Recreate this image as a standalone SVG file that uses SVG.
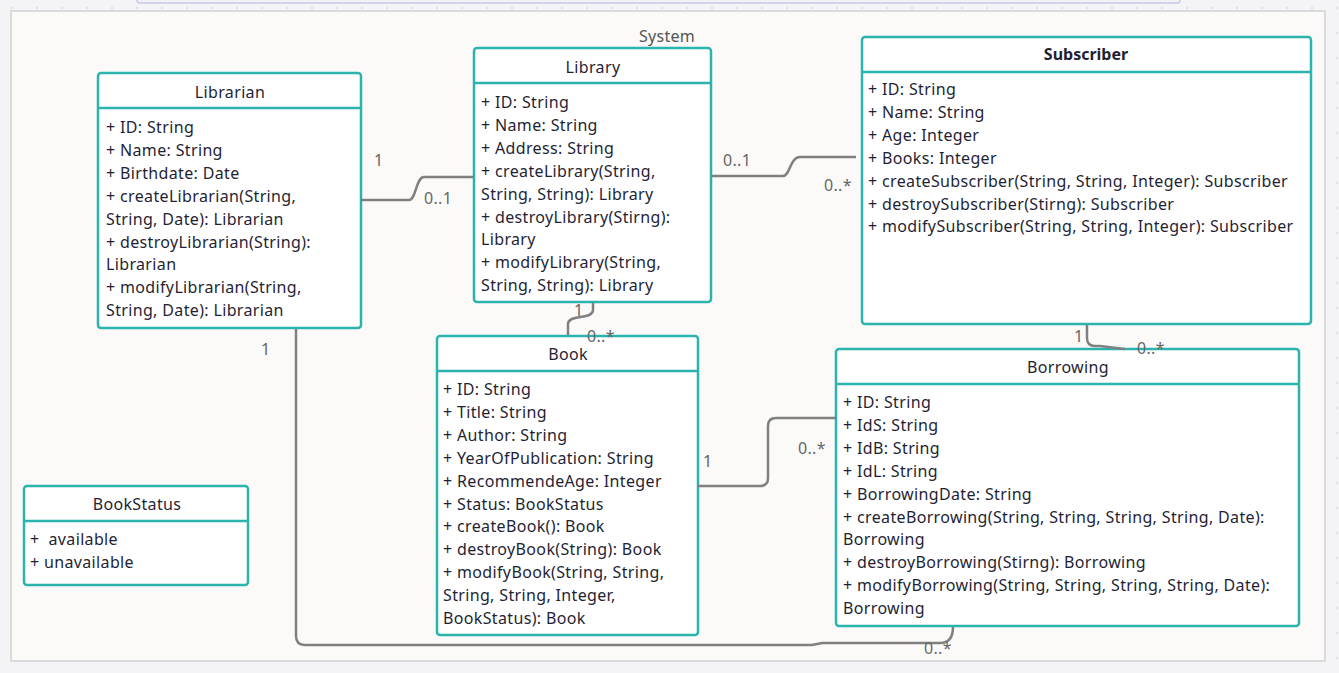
<svg xmlns="http://www.w3.org/2000/svg" width="1339" height="673" viewBox="0 0 1339 673">
<defs>
<pattern id="dots" width="25" height="25" patternUnits="userSpaceOnUse" x="11" y="0">
<circle cx="1" cy="8" r="1.2" fill="#dedee4"/>
</pattern>
<style>
.box{fill:#ffffff;stroke:#2bb3ae;stroke-width:2.5}
.div{stroke:#2bb3ae;stroke-width:2.5}
.t{font-family:"Noto Sans","Open Sans","DejaVu Sans",sans-serif;font-size:16px;fill:#1f1f35;white-space:pre;letter-spacing:0.35px}
.ttl{text-anchor:middle}
.b{font-weight:bold;letter-spacing:0}
.lbl{font-family:"Noto Sans","Open Sans","DejaVu Sans",sans-serif;font-size:16px;fill:#666666;letter-spacing:0.3px}
.con{fill:none;stroke:#808080;stroke-width:2.5}
</style>
</defs>
<rect x="0" y="0" width="1339" height="673" fill="#f4f4f6"/>
<rect x="0" y="0" width="1339" height="673" fill="url(#dots)"/>
<rect x="11" y="11" width="1314" height="650" fill="#fbfaf8" stroke="#dadada" stroke-width="2"/>
<rect x="137" y="-6" width="1043" height="9" rx="3" fill="#f1f1f8" stroke="#c6c9e9" stroke-width="1.5"/>
<text class="lbl" x="667" y="42" text-anchor="middle" style="fill:#555555">System</text>

<g id="librarian">
<rect class="box" x="98" y="73" width="263" height="255" rx="3"/>
<line class="div" x1="98" y1="108" x2="361" y2="108"/>
<text class="t ttl" x="230" y="98">Librarian</text>
<text class="t" x="106" y="133">+ ID: String</text>
<text class="t" x="106" y="156">+ Name: String</text>
<text class="t" x="106" y="178.8">+ Birthdate: Date</text>
<text class="t" x="106" y="201.7">+ createLibrarian(String,</text>
<text class="t" x="106" y="224.6">String, Date): Librarian</text>
<text class="t" x="106" y="247.5">+ destroyLibrarian(String):</text>
<text class="t" x="106" y="270.4">Librarian</text>
<text class="t" x="106" y="293.3">+ modifyLibrarian(String,</text>
<text class="t" x="106" y="316.2">String, Date): Librarian</text>
</g>

<g id="library">
<rect class="box" x="474" y="48" width="237" height="254" rx="3"/>
<line class="div" x1="474" y1="83" x2="711" y2="83"/>
<text class="t ttl" x="593" y="73">Library</text>
<text class="t" x="481" y="108">+ ID: String</text>
<text class="t" x="481" y="130.9">+ Name: String</text>
<text class="t" x="481" y="153.8">+ Address: String</text>
<text class="t" x="481" y="176.7">+ createLibrary(String,</text>
<text class="t" x="481" y="199.6">String, String): Library</text>
<text class="t" x="481" y="222.5">+ destroyLibrary(Stirng):</text>
<text class="t" x="481" y="245.4">Library</text>
<text class="t" x="481" y="268.3">+ modifyLibrary(String,</text>
<text class="t" x="481" y="291.2">String, String): Library</text>
</g>

<g id="subscriber">
<rect class="box" x="862" y="37" width="449" height="287" rx="3"/>
<line class="div" x1="862" y1="72" x2="1311" y2="72"/>
<text class="t ttl b" x="1086" y="60">Subscriber</text>
<text class="t" x="868" y="95">+ ID: String</text>
<text class="t" x="868" y="117.9">+ Name: String</text>
<text class="t" x="868" y="140.8">+ Age: Integer</text>
<text class="t" x="868" y="163.7">+ Books: Integer</text>
<text class="t" x="868" y="186.6">+ createSubscriber(String, String, Integer): Subscriber</text>
<text class="t" x="868" y="209.5">+ destroySubscriber(Stirng): Subscriber</text>
<text class="t" x="868" y="232.4">+ modifySubscriber(String, String, Integer): Subscriber</text>
</g>

<g id="book">
<rect class="box" x="437" y="336" width="261" height="299" rx="3"/>
<line class="div" x1="437" y1="371" x2="698" y2="371"/>
<text class="t ttl" x="568" y="360">Book</text>
<text class="t" x="443" y="395">+ ID: String</text>
<text class="t" x="443" y="417.9">+ Title: String</text>
<text class="t" x="443" y="440.8">+ Author: String</text>
<text class="t" x="443" y="463.7">+ YearOfPublication: String</text>
<text class="t" x="443" y="486.6">+ RecommendeAge: Integer</text>
<text class="t" x="443" y="509.5">+ Status: BookStatus</text>
<text class="t" x="443" y="532.4">+ createBook(): Book</text>
<text class="t" x="443" y="555.3">+ destroyBook(String): Book</text>
<text class="t" x="443" y="578.2">+ modifyBook(String, String,</text>
<text class="t" x="443" y="601.1">String, String, Integer,</text>
<text class="t" x="443" y="624">BookStatus): Book</text>
</g>

<g id="borrowing">
<rect class="box" x="836" y="349" width="463" height="277" rx="3"/>
<line class="div" x1="836" y1="384" x2="1299" y2="384"/>
<text class="t ttl" x="1068" y="373">Borrowing</text>
<text class="t" x="843" y="408">+ ID: String</text>
<text class="t" x="843" y="430.9">+ IdS: String</text>
<text class="t" x="843" y="453.8">+ IdB: String</text>
<text class="t" x="843" y="476.7">+ IdL: String</text>
<text class="t" x="843" y="499.6">+ BorrowingDate: String</text>
<text class="t" x="843" y="522.5">+ createBorrowing(String, String, String, String, Date):</text>
<text class="t" x="843" y="545.4">Borrowing</text>
<text class="t" x="843" y="568.3">+ destroyBorrowing(Stirng): Borrowing</text>
<text class="t" x="843" y="591.2">+ modifyBorrowing(String, String, String, String, Date):</text>
<text class="t" x="843" y="614.1">Borrowing</text>
</g>

<g id="bookstatus">
<rect class="box" x="24" y="486" width="224" height="99" rx="3"/>
<line class="div" x1="24" y1="521" x2="248" y2="521"/>
<text class="t ttl" x="137" y="510">BookStatus</text>
<text class="t" x="30" y="545">+  available</text>
<text class="t" x="30" y="568">+ unavailable</text>
</g>

<g id="connectors">
<path class="con" d="M361 200 H409 C416 200 416 177 424 177 H474"/>
<path class="con" d="M711 176 H783 C790 176 790 157 800 157 H856"/>
<path class="con" d="M593 303 V310 C593 320 568 314 568 324 V335"/>
<path class="con" d="M698 486 H760 Q768 486 768 478 V426 Q768 418 776 418 H836"/>
<path class="con" d="M1087 325 V338 Q1087 346 1095 346 H1100 L1125 349"/>
<path class="con" d="M296 329 V636 Q296 645 305 645 H812 L822 643 H940 Q953 643 953 627"/>
<text class="lbl" x="374" y="166">1</text>
<text class="lbl" x="424" y="204">0..1</text>
<text class="lbl" x="723" y="166">0..1</text>
<text class="lbl" x="824" y="191">0..*</text>
<text class="lbl" x="574" y="316">1</text>
<text class="lbl" x="587" y="342">0..*</text>
<text class="lbl" x="703" y="467">1</text>
<text class="lbl" x="798" y="454">0..*</text>
<text class="lbl" x="1074" y="342">1</text>
<text class="lbl" x="1137" y="354">0..*</text>
<text class="lbl" x="261" y="355">1</text>
<text class="lbl" x="924" y="654">0..*</text>
</g>
</svg>
